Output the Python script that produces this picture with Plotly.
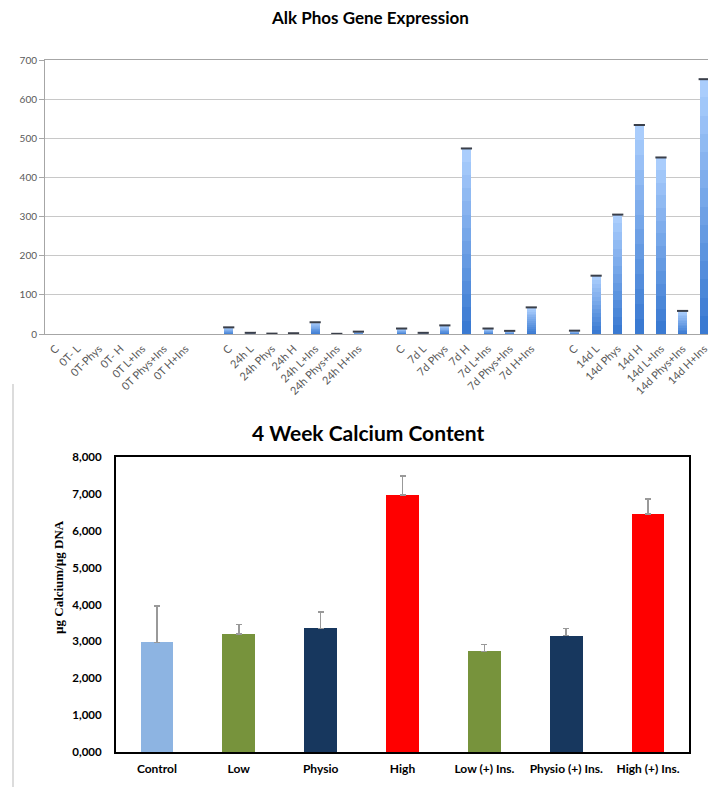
import plotly.graph_objects as go

# page body has an 8px margin: the figure is sized so it fills the window exactly
OFF = 8
FW, FH = 716 - OFF, 787 - OFF


def px(xp):
    return (xp - OFF) / FW


def py(yp):
    return 1 - (yp - OFF) / FH


# ---------------- Top chart data: Alk Phos Gene Expression ----------------
labels_0t = ["C", "0T- L", "0T-Phys", "0T- H", "0T L+Ins", "0T Phys+Ins", "0T H+Ins"]
values_0t = [0, 0, 0, 0, 0, 0, 0]
labels_24h = ["C", "24h L", "24h Phys", "24h H", "24h L+Ins", "24h Phys+Ins", "24h H+Ins"]
values_24h = [17, 3, 1, 2, 30, 0.5, 6]
labels_7d = ["C", "7d L", "7d Phys", "7d H", "7d L+Ins", "7d Phys+Ins", "7d H+Ins"]
values_7d = [14, 3, 22, 474, 14, 8, 68]
labels_14d = ["C", "14d L", "14d Phys", "14d H", "14d L+Ins", "14d Phys+Ins", "14d H+Ins"]
values_14d = [8.5, 149, 305, 534, 451, 59, 651]

# ---------------- Bottom chart data: 4 Week Calcium Content ----------------
ca_categories = ["Control", "Low", "Physio", "High", "Low (+) Ins.", "Physio (+) Ins.", "High (+) Ins."]
ca_values = [2975, 3200, 3354, 6970, 2730, 3155, 6454]
ca_errors = [985, 263, 443, 515, 190, 200, 406]
ca_colors = ["#8db4e2", "#77933c", "#17375e", "#ff0000", "#77933c", "#17375e", "#ff0000"]
ca_tickvals = [0, 1000, 2000, 3000, 4000, 5000, 6000, 7000, 8000]
ca_ticktext = ["0,000", "1,000", "2,000", "3,000", "4,000", "5,000", "6,000", "7,000", "8,000"]

groups = [(labels_0t, values_0t), (labels_24h, values_24h), (labels_7d, values_7d), (labels_14d, values_14d)]
xpos, xlab, yval = [], [], []
for g, (labs, vals) in enumerate(groups):
    for i, (lab, v) in enumerate(zip(labs, vals)):
        xpos.append(g * 8 + i)
        xlab.append(lab)
        yval.append(v)

fig = go.Figure()

# gradient bars: stacked slices of each bar, light at top, dark at bottom
N = 14
c_bot = (58, 122, 210)
c_top = (170, 205, 252)
for k in range(N):
    t = k / (N - 1)
    col = "rgb(%d,%d,%d)" % tuple(round(c_bot[j] + (c_top[j] - c_bot[j]) * t) for j in range(3))
    fig.add_trace(go.Bar(
        x=xpos, y=[v / N for v in yval], marker=dict(color=col, line=dict(width=0)),
        width=0.42, xaxis="x", yaxis="y", showlegend=False, hoverinfo="skip"))

# dark caps on the bar tops
cap_x = [x for x, v in zip(xpos, yval) if v > 0]
cap_y = [v for v in yval if v > 0]
fig.add_trace(go.Scatter(
    x=cap_x, y=cap_y, mode="markers", xaxis="x", yaxis="y", showlegend=False,
    marker=dict(symbol="line-ew", size=8, line=dict(width=2, color="#3a3f4a")),
    hoverinfo="skip"))

# bottom chart
fig.add_trace(go.Bar(
    x=ca_categories, y=ca_values, xaxis="x2", yaxis="y2", showlegend=False,
    marker=dict(color=ca_colors, line=dict(width=0)), width=0.4,
    error_y=dict(type="data", array=ca_errors, arrayminus=[0] * len(ca_errors),
                 symmetric=False, color="#999999", thickness=1.5, width=3)))

fig.update_layout(
    width=FW, height=FH, margin=dict(l=0, r=0, t=0, b=0, autoexpand=False),
    paper_bgcolor="white", plot_bgcolor="white",
    barmode="stack", bargap=0,
    font=dict(family="Lato, Open Sans, sans-serif", color="#404040"),
    xaxis=dict(domain=[px(45), px(715)], anchor="y", range=[-0.5, 30.5], automargin=False,
               tickmode="array", tickvals=xpos, ticktext=xlab, tickangle=-45,
               tickfont=dict(size=11, color="#595959"), showgrid=False,
               showline=True, linecolor="#a6a6a6", linewidth=1, mirror=True,
               ticks="", zeroline=False, ticklabelstandoff=3),
    yaxis=dict(domain=[py(334), py(60)], anchor="x", range=[0, 700], dtick=100, automargin=False,
               tickfont=dict(size=10, color="#595959"), showgrid=True, gridcolor="#c8c8c8",
               showline=True, linecolor="#a6a6a6", linewidth=1, mirror=True,
               ticks="outside", ticklen=5, tickcolor="#a6a6a6", zeroline=False),
    xaxis2=dict(domain=[px(116), px(689)], anchor="y2", type="category", automargin=False,
                tickfont=dict(size=12, color="black", weight="bold"),
                showline=True, linecolor="black", linewidth=2, mirror=True,
                showgrid=False, ticks="", ticklabelstandoff=5),
    yaxis2=dict(domain=[py(752), py(457)], anchor="x2", range=[0, 8000], automargin=False,
                tickmode="array", tickvals=ca_tickvals, ticktext=ca_ticktext,
                tickfont=dict(size=11.5, color="black", weight="bold"),
                showline=True, linecolor="black", linewidth=2, mirror=True,
                showgrid=False, ticks="", zeroline=False, ticklabelstandoff=10),
    annotations=[
        dict(text="Alk Phos Gene Expression", x=px(370), y=py(18), xref="paper", yref="paper",
             showarrow=False, xanchor="center", yanchor="middle",
             font=dict(size=17, color="black", weight="bold", family="Lato, sans-serif")),
        dict(text="4 Week Calcium Content", x=px(368), y=py(432), xref="paper", yref="paper",
             showarrow=False, xanchor="center", yanchor="middle",
             font=dict(size=21, color="black", weight="bold", family="Lato, sans-serif")),
        dict(text="µg Calcium/µg DNA", x=px(58), y=py(577), xref="paper", yref="paper",
             showarrow=False, textangle=-90, xanchor="center", yanchor="middle",
             font=dict(size=13, color="black", weight="bold", family="Liberation Serif, serif")),
    ],
    shapes=[
        dict(type="line", xref="paper", yref="paper", x0=px(13), x1=px(13),
             y0=0, y1=py(384), line=dict(color="#dcdcdc", width=2)),
    ],
)

fig.write_html("out.html")
